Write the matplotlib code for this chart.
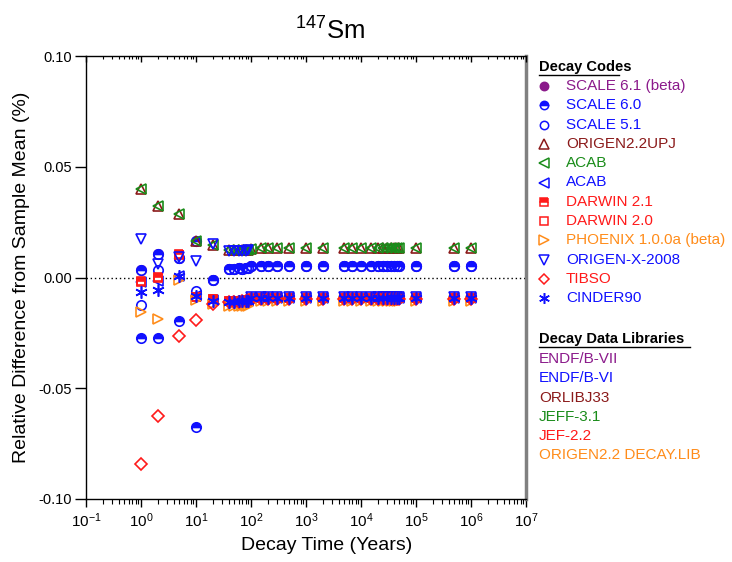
import matplotlib
matplotlib.use("Agg")
import matplotlib.pyplot as plt
from matplotlib.ticker import LogLocator, NullFormatter, FixedLocator, FormatStrFormatter
import numpy as np

plt.rcParams['font.family'] = ['Liberation Sans', 'DejaVu Sans']
plt.rcParams['mathtext.fontset'] = 'custom'
plt.rcParams['mathtext.rm'] = 'Liberation Sans'
plt.rcParams['mathtext.it'] = 'Liberation Sans'

# ---------------- data ----------------
decay_years = [1, 2, 5, 10, 20,
               40, 50, 60, 70, 80, 90, 100,
               150, 200, 300, 500, 1000, 2000, 5000, 7000, 10000, 15000,
               20000, 25000, 30000, 35000, 40000, 45000, 50000,
               100000, 500000, 1000000]

scale61 = [0.0032, 0.0107, 0.0087, 0.0167, -0.0013,
           0.0040, 0.0040, 0.0041, 0.0040, 0.0041, 0.0041, 0.0052,
           0.0053, 0.0053, 0.0053, 0.0053, 0.0053, 0.0053, 0.0053, 0.0053, 0.0053, 0.0053,
           0.0053, 0.0053, 0.0053, 0.0053, 0.0053, 0.0053, 0.0053,
           0.0053, 0.0053, 0.0053]
scale60 = [0.0032, 0.0107, 0.0087, 0.0167, -0.0013,
           0.0040, 0.0040, 0.0041, 0.0040, 0.0041, 0.0041, 0.0052,
           0.0053, 0.0053, 0.0053, 0.0053, 0.0053, 0.0053, 0.0053, 0.0053, 0.0053, 0.0053,
           0.0053, 0.0053, 0.0053, 0.0053, 0.0053, 0.0053, 0.0053,
           0.0053, 0.0053, 0.0053]
scale60_extra_years = [1, 2, 5, 10]
scale60_extra = [-0.0275, -0.0275, -0.0197, -0.0677]
scale51 = [-0.0122, 0.0035, 0.0087, -0.0060, -0.0013,
           0.0040, 0.0040, 0.0041, 0.0040, 0.0041, 0.0041, 0.0052,
           0.0053, 0.0053, 0.0053, 0.0053, 0.0053, 0.0053, 0.0053, 0.0053, 0.0053, 0.0053,
           0.0053, 0.0053, 0.0053, 0.0053, 0.0053, 0.0053, 0.0053,
           0.0053, 0.0053, 0.0053]
origen22upj = [0.0400, 0.0322, 0.0285, 0.0167, 0.0145,
               0.0124, 0.0123, 0.0124, 0.0124, 0.0125, 0.0125, 0.0130,
               0.0132, 0.0132, 0.0132, 0.0132, 0.0132, 0.0132, 0.0132, 0.0132, 0.0132, 0.0132,
               0.0132, 0.0132, 0.0132, 0.0132, 0.0132, 0.0132, 0.0132,
               0.0132, 0.0132, 0.0132]
acab_jeff = [0.0400, 0.0322, 0.0285, 0.0167, 0.0145,
             0.0124, 0.0123, 0.0124, 0.0124, 0.0125, 0.0125, 0.0130,
             0.0132, 0.0132, 0.0132, 0.0132, 0.0132, 0.0132, 0.0132, 0.0132, 0.0132, 0.0132,
             0.0132, 0.0132, 0.0132, 0.0132, 0.0132, 0.0132, 0.0132,
             0.0132, 0.0132, 0.0132]
acab_endf = [-0.0020, -0.0015, 0.0008, -0.0085, -0.0100,
             -0.0108, -0.0107, -0.0106, -0.0106, -0.0105, -0.0104, -0.0094,
             -0.0093, -0.0093, -0.0093, -0.0093, -0.0093, -0.0093, -0.0093, -0.0093, -0.0093, -0.0093,
             -0.0093, -0.0093, -0.0093, -0.0093, -0.0093, -0.0093, -0.0093,
             -0.0093, -0.0093, -0.0093]
darwin21 = [-0.0014, 0.0001, 0.0104, -0.0088, -0.0095,
            -0.0106, -0.0105, -0.0105, -0.0104, -0.0104, -0.0103, -0.0092,
            -0.0091, -0.0091, -0.0091, -0.0091, -0.0091, -0.0091, -0.0091, -0.0091, -0.0091, -0.0091,
            -0.0091, -0.0091, -0.0091, -0.0091, -0.0091, -0.0091, -0.0091,
            -0.0091, -0.0091, -0.0091]
darwin20 = [-0.0020, -0.0003, 0.0100, -0.0090, -0.0098,
            -0.0108, -0.0107, -0.0106, -0.0106, -0.0105, -0.0105, -0.0095,
            -0.0094, -0.0094, -0.0094, -0.0094, -0.0094, -0.0094, -0.0094, -0.0094, -0.0094, -0.0094,
            -0.0094, -0.0094, -0.0094, -0.0094, -0.0094, -0.0094, -0.0094,
            -0.0094, -0.0094, -0.0094]
phoenix = [-0.0155, -0.0187, -0.0012, -0.0100, -0.0120,
           -0.0128, -0.0128, -0.0128, -0.0128, -0.0127, -0.0127, -0.0108,
           -0.0106, -0.0106, -0.0106, -0.0106, -0.0106, -0.0106, -0.0106, -0.0106, -0.0106, -0.0106,
           -0.0106, -0.0106, -0.0106, -0.0106, -0.0106, -0.0106, -0.0106,
           -0.0106, -0.0106, -0.0106]
origenx = [0.0175, 0.0060, 0.0092, 0.0074, 0.0150,
           0.0120, 0.0120, 0.0121, 0.0121, 0.0121, 0.0122, -0.0088,
           -0.0088, -0.0088, -0.0088, -0.0088, -0.0088, -0.0088, -0.0088, -0.0088, -0.0088, -0.0088,
           -0.0088, -0.0088, -0.0088, -0.0088, -0.0088, -0.0088, -0.0088,
           -0.0088, -0.0088, -0.0088]
tibso = [-0.0842, -0.0625, -0.0265, -0.0190, -0.0119,
         -0.0110, -0.0109, -0.0109, -0.0108, -0.0108, -0.0107, -0.0098,
         -0.0098, -0.0098, -0.0098, -0.0098, -0.0098, -0.0098, -0.0098, -0.0098, -0.0098, -0.0098,
         -0.0098, -0.0098, -0.0098, -0.0098, -0.0098, -0.0098, -0.0098,
         -0.0098, -0.0098, -0.0098]
cinder90 = [-0.0066, -0.0055, 0.0005, -0.0082, -0.0105,
            -0.0110, -0.0109, -0.0108, -0.0107, -0.0106, -0.0106, -0.0092,
            -0.0091, -0.0091, -0.0091, -0.0091, -0.0091, -0.0091, -0.0091, -0.0091, -0.0091, -0.0091,
            -0.0091, -0.0091, -0.0091, -0.0091, -0.0091, -0.0091, -0.0091,
            -0.0091, -0.0091, -0.0091]

code_labels = ["SCALE 6.1 (beta)", "SCALE 6.0", "SCALE 5.1", "ORIGEN2.2UPJ", "ACAB", "ACAB",
               "DARWIN 2.1", "DARWIN 2.0", "PHOENIX 1.0.0a (beta)", "ORIGEN-X-2008", "TIBSO", "CINDER90"]
library_labels = ["ENDF/B-VII", "ENDF/B-VI", "ORLIBJ33", "JEFF-3.1", "JEF-2.2", "ORIGEN2.2 DECAY.LIB"]

PURPLE = "#8B1A8B"
BLUE = "#1010FF"
BROWN = "#8B1A1A"
GREEN = "#1A8C1A"
RED = "#FF1A1A"
ORANGE = "#FF8C1A"
library_colors = [PURPLE, BLUE, BROWN, GREEN, RED, ORANGE]

asterisk = (6, 2, 0)
styles = [
    (scale61, 'o', PURPLE, 'full'),
    (scale60, 'o', BLUE, 'top'),
    (scale51, 'o', BLUE, 'none'),
    (origen22upj, '^', BROWN, 'none'),
    (acab_jeff, '<', GREEN, 'none'),
    (acab_endf, '<', BLUE, 'none'),
    (darwin21, 's', RED, 'top'),
    (darwin20, 's', RED, 'none'),
    (phoenix, '>', ORANGE, 'none'),
    (origenx, 'v', BLUE, 'none'),
    (tibso, 'D', RED, 'none'),
    (cinder90, asterisk, BLUE, 'none'),
]
size_factor = {'o': 1.0, 's': 0.9, 'D': 0.85, '^': 1.12, 'v': 1.12, '<': 1.12, '>': 1.12}

W, H = 732, 562
fig = plt.figure(figsize=(W / 100, H / 100), dpi=100)
ax = fig.add_axes([86 / W, (H - 499) / H, (526 - 86) / W, (499 - 56) / H])


def draw(a, x, y, marker, color, fs, ms, mew=1.2):
    kw = dict(linestyle='none', marker=marker, markeredgecolor=color,
              markeredgewidth=mew)
    if fs == 'none':
        kw.update(markerfacecolor='none')
    elif fs == 'full':
        kw.update(markerfacecolor=color)
    else:
        kw.update(markerfacecolor=color, fillstyle=fs, markerfacecoloralt='white')
    key = marker if isinstance(marker, str) else 'ast'
    kw['markersize'] = ms * size_factor.get(key, 1.3)
    a.plot(x, y, **kw)


MS = 6.8
for i, (vals, mk, col, fs) in enumerate(styles):
    draw(ax, decay_years, vals, mk, col, fs, MS)
    if i == 1:
        draw(ax, scale60_extra_years, scale60_extra, mk, col, fs, MS)

ax.axhline(0, color='black', linestyle=(0, (1, 2)), linewidth=1.0, zorder=0)

ax.set_xscale('log')
ax.set_xlim(1e-1, 1e7)
ax.set_ylim(-0.10, 0.10)
ax.xaxis.set_major_locator(LogLocator(base=10, numticks=20))
ax.xaxis.set_minor_locator(LogLocator(base=10, subs=np.arange(2, 10), numticks=20))
ax.xaxis.set_minor_formatter(NullFormatter())
ax.yaxis.set_major_locator(FixedLocator([-0.10, -0.05, 0.0, 0.05, 0.10]))
ax.yaxis.set_major_formatter(FormatStrFormatter('%.2f'))
ax.tick_params(axis='x', which='major', direction='out', length=6, width=1, labelsize=11, pad=3)
ax.tick_params(axis='x', which='minor', direction='out', length=3.5, width=0.8)
ax.tick_params(axis='y', which='major', direction='out', length=8, width=1, labelsize=10.5, pad=2)
ax.tick_params(axis='y', which='minor', left=False)
for s in ('left', 'bottom', 'top'):
    ax.spines[s].set_linewidth(1.0)
    ax.spines[s].set_color('black')
ax.spines['right'].set_color('#808080')
ax.spines['right'].set_linewidth(2.5)

# mirrored top ticks pointing inward
axt = ax.twiny()
axt.set_xscale('log')
axt.set_xlim(ax.get_xlim())
axt.xaxis.set_major_locator(LogLocator(base=10, numticks=20))
axt.xaxis.set_minor_locator(LogLocator(base=10, subs=np.arange(2, 10), numticks=20))
axt.tick_params(axis='x', which='major', direction='in', length=4, width=1, labeltop=False)
axt.tick_params(axis='x', which='minor', direction='in', length=2.5, width=0.8, labeltop=False)
axt.xaxis.set_minor_formatter(NullFormatter())
axt.set_xticklabels([])
for s in axt.spines.values():
    s.set_visible(False)

ax.set_xlabel('Decay Time (Years)', fontsize=14, labelpad=4)
ax.xaxis.set_label_coords((327 - 86) / 440, -0.085)
ax.set_ylabel('Relative Difference from Sample Mean (%)', fontsize=14, labelpad=6)
fig.text(330 / W, 1 - 31 / H, r'$^{147}$Sm', fontsize=18.5, ha='center', va='center')

# legend panel in pixel coordinates
lax = fig.add_axes([0, 0, 1, 1], facecolor='none')
lax.set_xlim(0, W)
lax.set_ylim(H, 0)
lax.axis('off')

lax.text(539, 67, 'Decay Codes', fontsize=10.5, fontweight='bold', va='center', ha='left')
lax.plot([539, 619], [74.5, 74.5], color='black', linewidth=1)
code_text_colors = [PURPLE, BLUE, BLUE, BROWN, GREEN, BLUE, RED, RED, ORANGE, BLUE, RED, BLUE]
for i, ((vals, mk, col, fs), lab, tc) in enumerate(zip(styles, code_labels, code_text_colors)):
    yy = 86 + i * 19.3
    draw(lax, [544], [yy], mk, col, fs, 6.0, mew=1.1)
    lax.text(566, yy, lab, fontsize=11, color=tc, va='center', ha='left')

lax.text(539, 339.5, 'Decay Data Libraries', fontsize=10.5, fontweight='bold', va='center', ha='left')
lax.plot([539, 690], [347, 347], color='black', linewidth=1)
for i, (lab, col) in enumerate(zip(library_labels, library_colors)):
    lax.text(539, 359.3 + i * 19.2, lab, fontsize=11, color=col, va='center', ha='left')

fig.savefig('out.png', dpi=100)
